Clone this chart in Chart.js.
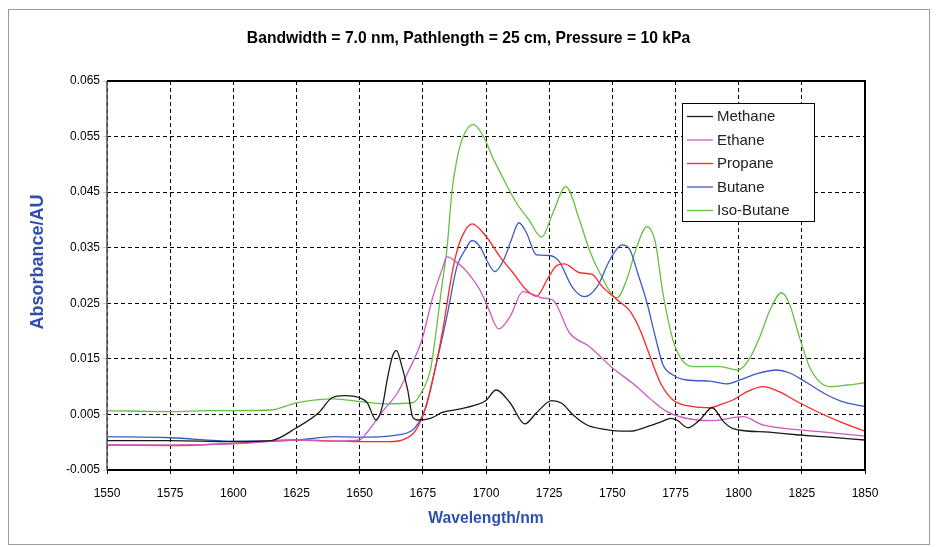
<!DOCTYPE html>
<html><head><meta charset="utf-8">
<script src="https://cdn.jsdelivr.net/npm/chart.js@4.4.1/dist/chart.umd.min.js"></script>
<style>html,body{margin:0;padding:0;background:#fff}</style>
</head><body>
<canvas id="c" width="937" height="547"></canvas>
<script>
const chartTitle = 'Bandwidth = 7.0 nm, Pathlength = 25 cm, Pressure = 10 kPa';
const xTitle = 'Wavelength/nm';
const yTitle = 'Absorbance/AU';
const seriesNames = ['Methane', 'Ethane', 'Propane', 'Butane', 'Iso-Butane'];
const xRange = [1550, 1850, 25];
const yRange = [-0.005, 0.065, 0.01];

const methaneX = [1550,1575,1600,1615,1625,1634,1639,1644,1650,1653,1656.5,1659,1661,1663,1664.6,1666.5,1669,1671,1673,1678,1683,1690,1696,1700,1704,1709.5,1715.4,1720,1726,1730,1734.5,1740,1747,1753,1757,1765,1770,1773,1775.5,1780,1785,1789.5,1794,1797,1800,1812,1824,1836,1850];
const methaneY = [0.0003,0.0003,0.0001,0.0003,0.0026,0.0054,0.008,0.0084,0.008,0.0071,0.004,0.0065,0.0115,0.0155,0.0165,0.014,0.0094,0.0045,0.004,0.0043,0.0054,0.006,0.0067,0.0075,0.0094,0.0071,0.0033,0.0053,0.0075,0.007,0.0049,0.0031,0.0023,0.002,0.002,0.003,0.0038,0.0043,0.004,0.0026,0.0042,0.0062,0.0037,0.0026,0.0022,0.0018,0.0013,0.0009,0.0004];

const ethaneX = [1550,1575,1600,1625,1640,1650,1653,1659,1665,1669,1674.6,1679,1683,1684.5,1688,1691,1695,1697.6,1701,1705,1709.5,1714.6,1718.6,1722,1726.5,1733,1741,1750,1759.7,1765,1771.6,1783.5,1790,1801.7,1809.6,1822,1832,1850];
const ethaneY = [-0.0005,-0.0005,-0.0003,0.0004,0.0002,0.0004,0.0018,0.0055,0.0089,0.0125,0.0184,0.0262,0.0316,0.0334,0.0325,0.0314,0.0292,0.0274,0.024,0.0204,0.0226,0.0271,0.0266,0.026,0.0256,0.0197,0.0172,0.0134,0.01,0.0078,0.0055,0.004,0.0039,0.0046,0.0031,0.0023,0.0019,0.0011];

const propaneX = [1550,1575,1600,1625,1650,1662,1668,1672,1675,1678,1683,1686,1688,1690.5,1694.5,1699.6,1705.5,1710.7,1716,1720,1724.5,1728,1731,1737,1742,1746,1752,1757,1761,1764,1769,1774,1782,1788.6,1793,1797.7,1803,1809.6,1816,1824,1832,1840,1850];
const propaneY = [-0.0005,-0.0006,-0.0002,0.0004,0.0001,0.0001,0.0006,0.002,0.0048,0.0094,0.0205,0.029,0.0335,0.037,0.0393,0.0373,0.0334,0.0305,0.0274,0.0263,0.0295,0.0318,0.0321,0.0305,0.0302,0.028,0.0256,0.0236,0.0202,0.0166,0.0107,0.0076,0.0064,0.0062,0.0068,0.0076,0.009,0.01,0.0091,0.0071,0.0053,0.0037,0.002];

const butaneX = [1550,1575,1600,1625,1640,1650,1663,1671,1673,1676,1679,1684.5,1688.5,1691.7,1694.5,1697.6,1700.8,1703.5,1707,1710,1713,1716,1720,1725,1729,1734,1739,1744,1749,1753.8,1757,1760,1763.7,1767,1770,1774,1779.5,1788.6,1795,1800.5,1807,1815,1820,1827,1835,1841,1850];
const butaneY = [0.001,0.0008,0.0002,0.0004,0.001,0.0009,0.0012,0.0022,0.0033,0.006,0.0115,0.0226,0.0316,0.0346,0.0363,0.0352,0.0323,0.0307,0.0328,0.0364,0.0395,0.0377,0.0337,0.0336,0.0325,0.028,0.0262,0.028,0.0328,0.0355,0.0346,0.0305,0.0251,0.019,0.014,0.0121,0.0112,0.011,0.0105,0.0112,0.0123,0.013,0.0125,0.0107,0.0085,0.0073,0.0064];

const isoButaneX = [1550,1575,1590,1600,1615,1625,1640,1650,1660,1671,1675,1678,1680.5,1682.5,1684.5,1686.5,1688.5,1691,1695,1699,1703,1707,1712,1717,1722,1726.5,1731.6,1737,1741,1745,1751.8,1755.7,1759.7,1763.7,1767,1770,1774,1777.5,1782,1792.6,1799.7,1804,1808.4,1812.4,1817,1820,1824,1828,1832,1836,1843,1850];
const isoButaneY = [0.0057,0.0055,0.0057,0.0057,0.0058,0.0071,0.0078,0.0073,0.0069,0.0071,0.0094,0.013,0.0208,0.028,0.0346,0.045,0.0509,0.055,0.0572,0.055,0.0509,0.0473,0.0431,0.04,0.0369,0.0413,0.046,0.04,0.0345,0.0305,0.026,0.0293,0.0352,0.0388,0.036,0.0269,0.0184,0.0148,0.0136,0.0136,0.013,0.0148,0.019,0.0238,0.0269,0.025,0.019,0.0136,0.0109,0.01,0.0103,0.0107];

const colors = ['#1a1a1a', '#cc5cc0', '#ff2626', '#3a5cc0', '#66c040'];
const xs = [methaneX, ethaneX, propaneX, butaneX, isoButaneX];
const ys = [methaneY, ethaneY, propaneY, butaneY, isoButaneY];
const FONT = '"Liberation Sans", Arial, sans-serif';
const axisTitleColor = '#2f4fb0';

const datasets = seriesNames.map((name, i) => ({
  label: name,
  data: xs[i].map((x, j) => ({x: x, y: ys[i][j]})),
  borderColor: colors[i],
  backgroundColor: colors[i],
  borderWidth: 1.3,
  pointRadius: 0,
  fill: false,
  yAxisID: 'y',
  cubicInterpolationMode: 'monotone'
}));

const framePlugin = {
  id: 'frame',
  beforeDraw(chart) {
    const ctx = chart.ctx;
    ctx.save();
    ctx.fillStyle = '#fff';
    ctx.fillRect(0, 0, chart.width, chart.height);
    ctx.strokeStyle = '#9a9a9a';
    ctx.lineWidth = 1;
    ctx.strokeRect(8.5, 9.5, 921, 535);
    ctx.restore();
  },
  afterDatasetsDraw(chart) {
    const {ctx, chartArea: a} = chart;
    ctx.save();
    ctx.strokeStyle = '#000';
    ctx.lineWidth = 2;
    ctx.beginPath();
    ctx.moveTo(a.left, a.top); ctx.lineTo(a.right, a.top);
    ctx.lineTo(a.right, a.bottom); ctx.lineTo(a.left, a.bottom);
    ctx.stroke();
    ctx.strokeStyle = '#555';
    ctx.lineWidth = 1.5;
    ctx.beginPath();
    ctx.moveTo(a.left, a.top); ctx.lineTo(a.left, a.bottom);
    ctx.stroke();
    ctx.restore();
  },
  afterDraw(chart) {
    const ctx = chart.ctx;
    // y-axis title
    ctx.save();
    ctx.translate(38, 262);
    ctx.rotate(-Math.PI / 2);
    ctx.font = 'bold 18px ' + FONT;
    ctx.fillStyle = axisTitleColor;
    ctx.textAlign = 'center';
    ctx.textBaseline = 'middle';
    ctx.fillText(yTitle, 0, 0);
    ctx.restore();
    // legend
    const bx = 682.5, by = 103.5, bw = 132, bh = 118;
    ctx.save();
    ctx.fillStyle = '#fff';
    ctx.fillRect(bx, by, bw, bh);
    ctx.strokeStyle = '#000';
    ctx.lineWidth = 1;
    ctx.strokeRect(bx, by, bw, bh);
    ctx.font = '15px ' + FONT;
    ctx.textBaseline = 'middle';
    ctx.textAlign = 'left';
    chart.data.datasets.forEach((ds, i) => {
      const yy = 116.5 + i * 23.5;
      ctx.strokeStyle = ds.borderColor;
      ctx.lineWidth = 1.3;
      ctx.beginPath();
      ctx.moveTo(687, yy); ctx.lineTo(713, yy);
      ctx.stroke();
      ctx.fillStyle = '#222';
      ctx.fillText(ds.label, 717, yy + 0.5);
    });
    ctx.restore();
  }
};

new Chart(document.getElementById('c'), {
  type: 'line',
  data: {datasets},
  plugins: [framePlugin],
  options: {
    responsive: false,
    animation: false,
    devicePixelRatio: 1,
    layout: {padding: 0},
    plugins: {
      legend: {display: false},
      tooltip: {enabled: false},
      title: {
        display: true, text: chartTitle, color: '#000',
        font: {family: FONT, size: 15.7, weight: 'bold', lineHeight: 1.2},
        padding: {top: 29, bottom: 33.2}
      }
    },
    scales: {
      x: {
        type: 'linear', min: xRange[0], max: xRange[1],
        afterFit(s) { s.height = 77; },
        ticks: {stepSize: xRange[2], color: '#000', padding: 12,
          font: {family: FONT, size: 12},
          callback: v => String(v)},
        grid: {color: '#000', tickColor: '#000', lineWidth: 1, drawTicks: true, tickLength: 4},
        border: {display: false, dash: [4, 3]},
        title: {display: true, text: xTitle, color: axisTitleColor,
          font: {family: FONT, size: 15.7, weight: 'bold', lineHeight: 1.2},
          padding: {top: 0, bottom: 19}}
      },
      y: {
        type: 'linear', position: 'left', min: yRange[0], max: yRange[1],
        afterFit(s) { s.width = 107; },
        ticks: {stepSize: yRange[2], color: '#000', padding: 3,
          font: {family: FONT, size: 12},
          callback: v => v.toFixed(3)},
        grid: {color: '#000', tickColor: '#a8d0e8', lineWidth: 1, drawTicks: true, tickLength: 4},
        border: {display: false, dash: [4, 3]}
      },
      ySpace: {
        type: 'linear', position: 'right', min: 0, max: 1,
        afterFit(s) { s.width = 72; },
        ticks: {display: false},
        grid: {display: false, drawTicks: false},
        border: {display: false}
      }
    }
  }
});
</script>
</body></html>
